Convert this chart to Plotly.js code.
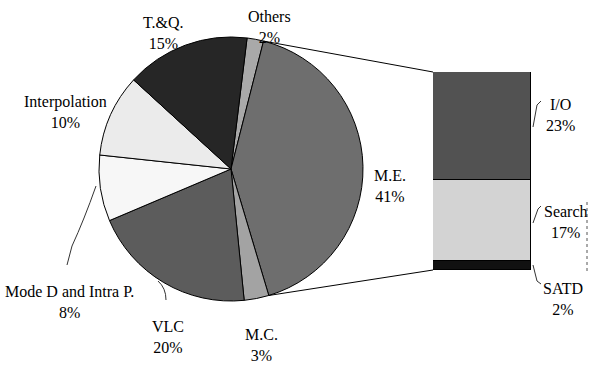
<!DOCTYPE html>
<html>
<head>
<meta charset="utf-8">
<script src="https://cdn.plot.ly/plotly-3.0.1.min.js"></script>
<style>html,body{margin:0;padding:0;background:#fff;}#chart{width:598px;height:366px;}</style>
</head>
<body>
<div id="chart"></div>
<script>
// Pie data (clockwise from top)
var pieLabels = ["Others", "M.E.", "M.C.", "VLC", "Mode D and Intra P.", "Interpolation", "T.&Q."];
var pieValues = [2, 41, 3, 20, 8, 10, 15];
var pieColors = ["#a9a9a9", "#6e6e6e", "#a3a3a3", "#5c5c5c", "#f7f7f7", "#ebebeb", "#262626"];

// Breakdown of M.E. (bottom to top)
var barLabels = ["SATD", "Search", "I/O"];
var barValues = [2, 17, 23];
var barColors = ["#111111", "#d3d3d3", "#525252"];

var W = 598, H = 366;
function PX(x) { return x / W; }
function PY(y) { return 1 - y / H; }

// pie geometry (pixels)
var cx = 231, cy = 169, R = 132, rot = 7;
var barLeft = 433, barRight = 531, barTop = 72, barBottom = 270;

var traces = [{
  type: "pie",
  labels: pieLabels,
  values: pieValues,
  sort: false,
  direction: "clockwise",
  rotation: rot,
  textinfo: "none",
  hoverinfo: "skip",
  marker: { colors: pieColors, line: { color: "#000", width: 1 } },
  domain: { x: [PX(cx - R), PX(cx + R)], y: [PY(cy + R), PY(cy - R)] },
  showlegend: false
}];

barLabels.forEach(function (lab, i) {
  traces.push({
    type: "bar",
    x: [0],
    y: [barValues[i]],
    width: [1],
    name: lab,
    marker: { color: barColors[i], line: { color: "#000", width: 1.2 } },
    hoverinfo: "skip",
    showlegend: false
  });
});

var total = pieValues.reduce(function (a, b) { return a + b; }, 0);
var barTotal = barValues.reduce(function (a, b) { return a + b; }, 0);
// angles of the M.E. slice edges
var meIdx = pieLabels.indexOf("M.E.");
var before = 0;
for (var k = 0; k < meIdx; k++) before += pieValues[k];
var a0 = (rot + before / total * 360) * Math.PI / 180;
var a1 = (rot + (before + pieValues[meIdx]) / total * 360) * Math.PI / 180;
var p0 = [cx + R * Math.sin(a0), cy - R * Math.cos(a0)];
var p1 = [cx + R * Math.sin(a1), cy - R * Math.cos(a1)];

function pathPx(pts) {
  return pts.map(function (p, i) {
    return (p[0] === "Q" ? "Q" : (i === 0 ? "M" : "L")) +
      (p[0] === "Q" ? (PX(p[1]) + "," + PY(p[2]) + " " + PX(p[3]) + "," + PY(p[4])) : (PX(p[0]) + "," + PY(p[1])));
  }).join(" ");
}

var lineStyle = { color: "#000", width: 1 };
var thin = { color: "#333", width: 1 };
var shapes = [
  { type: "line", xref: "paper", yref: "paper", x0: PX(p0[0]), y0: PY(p0[1]), x1: PX(barLeft), y1: PY(barTop), line: lineStyle },
  { type: "line", xref: "paper", yref: "paper", x0: PX(p1[0]), y0: PY(p1[1]), x1: PX(barLeft), y1: PY(barBottom), line: lineStyle },
  // leader lines
  { type: "path", xref: "paper", yref: "paper", path: pathPx([[67, 265], [72, 246], ["Q", 84, 220, 96, 186]]), line: thin },
  { type: "path", xref: "paper", yref: "paper", path: pathPx([[158, 281], ["Q", 166, 288, 166, 300]]), line: thin },
  { type: "path", xref: "paper", yref: "paper", path: pathPx([[533, 127], [537, 105], [541, 101]]), line: thin },
  { type: "path", xref: "paper", yref: "paper", path: pathPx([[533, 223], [538, 209], [541, 206]]), line: thin },
  { type: "path", xref: "paper", yref: "paper", path: pathPx([[533, 265], [537, 281], [541, 284]]), line: thin },
  { type: "line", xref: "paper", yref: "paper", x0: PX(587), y0: PY(202), x1: PX(587), y1: PY(272), line: { color: "#555", width: 1, dash: "dot" } }
];

var labelPos = {
  "Others": [269, 27],
  "M.E.": [390, 186],
  "M.C.": [261, 345],
  "VLC": [168, 337],
  "Mode D and Intra P.": [69, 302],
  "Interpolation": [65, 112],
  "T.&Q.": [163, 33],
  "I/O": [560, 115],
  "Search": [566, 222],
  "SATD": [563, 299]
};
function mkFont() { return { family: "Liberation Serif", size: 16, color: "#000000" }; }
var annotations = [];
pieLabels.forEach(function (lab, i) {
  var p = labelPos[lab];
  annotations.push({ xref: "paper", yref: "paper", x: PX(p[0]), y: PY(p[1]), text: lab + "<br>" + pieValues[i] + "%", showarrow: false, font: mkFont(), xanchor: "center", yanchor: "middle" });
});
barLabels.forEach(function (lab, i) {
  var p = labelPos[lab];
  annotations.push({ xref: "paper", yref: "paper", x: PX(p[0]), y: PY(p[1]), text: lab + "<br>" + barValues[i] + "%", showarrow: false, font: mkFont(), xanchor: "center", yanchor: "middle" });
});

var layout = {
  width: W, height: H,
  margin: { l: 0, r: 0, t: 0, b: 0 },
  paper_bgcolor: "#fff", plot_bgcolor: "rgba(0,0,0,0)",
  showlegend: false,
  barmode: "stack",
  bargap: 0,
  xaxis: { domain: [PX(barLeft), PX(barRight)], range: [-0.5, 0.5], visible: false, fixedrange: true },
  yaxis: { domain: [PY(barBottom), PY(barTop)], range: [0, barTotal], visible: false, fixedrange: true },
  shapes: shapes,
  annotations: annotations,
  font: { family: "Liberation Serif", size: 16, color: "#000000" }
};

Plotly.newPlot("chart", traces, layout, { displayModeBar: false });
</script>
</body>
</html>
